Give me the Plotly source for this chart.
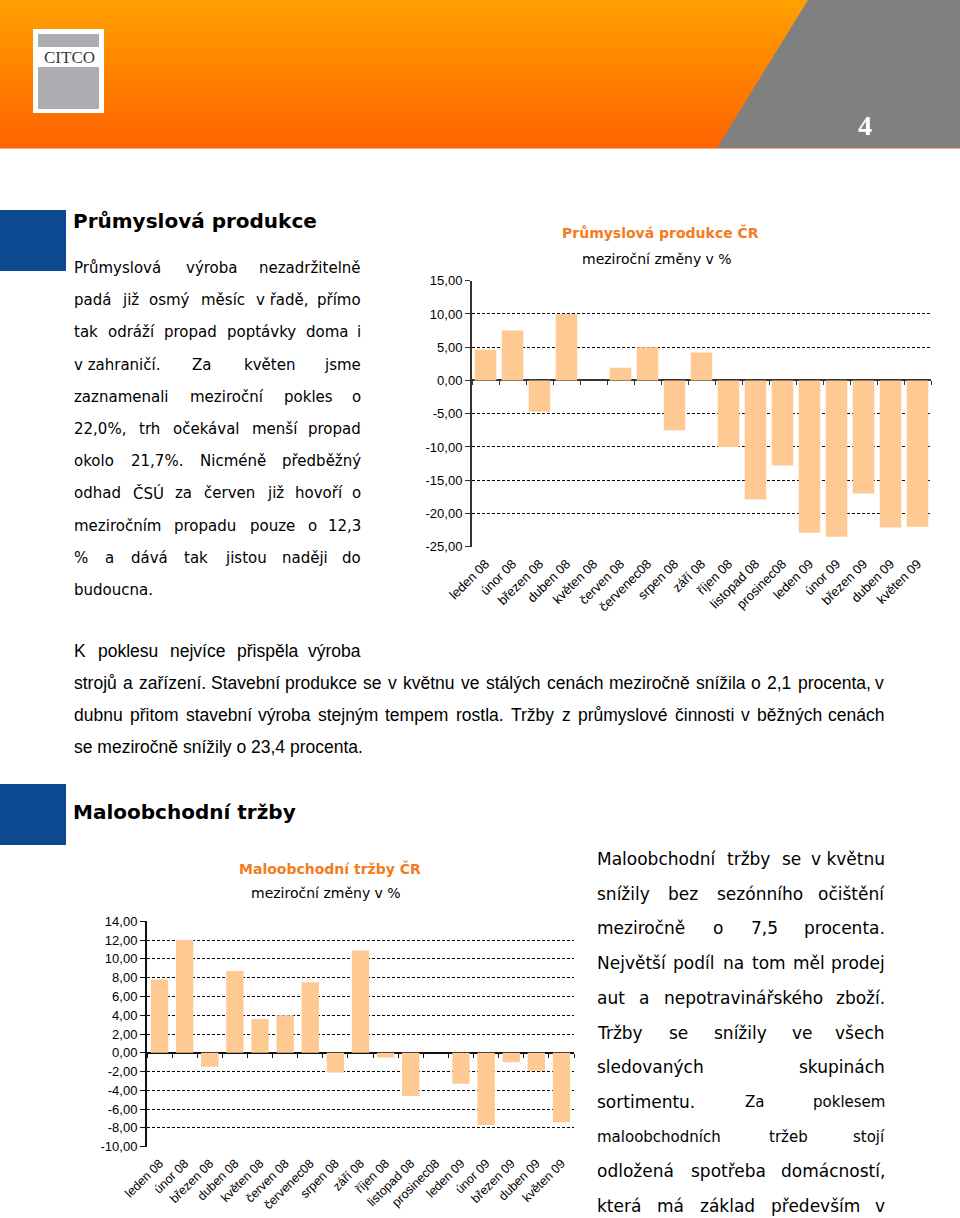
import unicodedata
import plotly.graph_objects as go

# ---------------- data ----------------
MONTHS = ["leden 08", "únor 08", "březen 08", "duben 08", "květen 08", "červen 08",
          "červenec08", "srpen 08", "září 08", "říjen 08", "listopad 08", "prosinec08",
          "leden 09", "únor 09", "březen 09", "duben 09", "květen 09"]

PRUMYSL_VALUES = [4.6, 7.5, -4.7, 10.0, None, 1.9, 5.0, -7.5, 4.2, -10.0, -17.9, -12.8,
                  -22.9, -23.5, -17.0, -22.1, -22.0]
MALOOBCH_VALUES = [7.8, 12.0, -1.5, 8.7, 3.6, 4.0, 7.5, -2.1, 10.9, -0.5, -4.6, None,
                   -3.3, -7.7, -1.0, -1.9, -7.4]

PRUMYSL_YTICKS = [-25, -20, -15, -10, -5, 0, 5, 10, 15]
MALOOBCH_YTICKS = [-10, -8, -6, -4, -2, 0, 2, 4, 6, 8, 10, 12, 14]

PRUMYSL_TITLE = "Průmyslová produkce ČR"
MALOOBCH_TITLE = "Maloobchodní tržby ČR"
SUBTITLE = "meziroční změny v %"

SECTION1 = "Průmyslová produkce"
SECTION2 = "Maloobchodní tržby"

LEFT_TEXT = [
    "Průmyslová výroba nezadržitelně",
    "padá již osmý měsíc v\u00a0řadě, přímo",
    "tak odráží propad poptávky doma i",
    "v\u00a0zahraničí. Za květen jsme",
    "zaznamenali meziroční pokles o",
    "22,0%, trh očekával menší propad",
    "okolo 21,7%. Nicméně předběžný",
    "odhad ČSÚ za červen již hovoří o",
    "meziročním propadu pouze o 12,3",
    "% a dává tak jistou naději do",
    "budoucna.",
]
MIDDLE_TEXT = [
    "K poklesu nejvíce přispěla výroba",
    "strojů a zařízení. Stavební produkce se v květnu ve stálých cenách meziročně snížila o 2,1 procenta, v",
    "dubnu přitom stavební výroba stejným tempem rostla. Tržby z průmyslové činnosti v běžných cenách",
    "se meziročně snížily o 23,4 procenta.",
]
RIGHT_TEXT = [
    "Maloobchodní tržby se v\u00a0květnu",
    "snížily bez sezónního očištění",
    "meziročně o 7,5 procenta.",
    "Největší podíl na tom měl prodej",
    "aut a nepotravinářského zboží.",
    "Tržby se snížily ve všech",
    "sledovaných skupinách",
    "sortimentu. Za poklesem",
    "maloobchodních tržeb stojí",
    "odložená spotřeba domácností,",
    "která má základ především v",
]
PAGE_NUMBER = "4"
LOGO_TEXT = "CITCO"

# ---------------- helpers ----------------
W, H = 960, 1218


def px(x):
    return x / W


def py(y):
    return 1 - y / H


DEJAVU = {' ': 318, '\u00a0': 318, 'a': 613, 'b': 635, 'c': 550, 'd': 635, 'e': 615, 'f': 352,
          'g': 635, 'h': 634, 'i': 278, 'j': 278, 'k': 579, 'l': 278, 'm': 974, 'n': 634,
          'o': 612, 'p': 635, 'q': 635, 'r': 411, 's': 521, 't': 392, 'u': 634, 'v': 592,
          'w': 818, 'x': 592, 'y': 592, 'z': 525, 'A': 684, 'B': 686, 'C': 698, 'D': 770,
          'E': 632, 'F': 575, 'G': 775, 'H': 752, 'I': 295, 'J': 295, 'K': 656, 'L': 557,
          'M': 863, 'N': 748, 'O': 787, 'P': 603, 'Q': 787, 'R': 695, 'S': 635, 'T': 611,
          'U': 732, 'V': 684, 'W': 989, 'X': 685, 'Y': 611, 'Z': 685, ',': 318, '.': 318,
          '%': 950, '-': 361, ':': 337}
ARIAL = {' ': 278, '\u00a0': 278, 'a': 556, 'b': 556, 'c': 500, 'd': 556, 'e': 556, 'f': 278,
         'g': 556, 'h': 556, 'i': 222, 'j': 222, 'k': 500, 'l': 222, 'm': 833, 'n': 556,
         'o': 556, 'p': 556, 'q': 556, 'r': 333, 's': 500, 't': 278, 'u': 556, 'v': 500,
         'w': 722, 'x': 500, 'y': 500, 'z': 500, 'A': 667, 'B': 667, 'C': 722, 'D': 722,
         'E': 667, 'F': 611, 'G': 778, 'H': 722, 'I': 278, 'J': 500, 'K': 667, 'L': 556,
         'M': 833, 'N': 722, 'O': 778, 'P': 667, 'Q': 778, 'R': 722, 'S': 667, 'T': 611,
         'U': 722, 'V': 667, 'W': 944, 'X': 667, 'Y': 667, 'Z': 611, ',': 278, '.': 278,
         '%': 889, '-': 333, ':': 278}
for d in "0123456789":
    DEJAVU[d] = 636
    ARIAL[d] = 556


def text_width(s, table, size):
    tot = 0
    for ch in s:
        base = unicodedata.normalize('NFD', ch)[0]
        tot += table.get(ch, table.get(base, 600))
    return tot / 1000 * size


annotations = []
shapes = []


def add_text(text, x, y, size, family, color="#000000", xanchor="left", bold=False):
    annotations.append(dict(
        text=f"<b>{text}</b>" if bold else text, x=px(x), y=py(y), xref="paper", yref="paper",
        xanchor=xanchor, yanchor="middle", showarrow=False, borderpad=0,
        font=dict(size=size, family=family, color=color)))


def justified_line(line, x0, x1, y, size, family, table, justify=True, sizes=None):
    words = line.split(' ')
    if sizes is None:
        sizes = [size] * len(words)
    if not justify or len(words) == 1:
        add_text(line, x0, y, size, family)
        return
    widths = [text_width(w, table, s) for w, s in zip(words, sizes)]
    gap = (x1 - x0 - sum(widths)) / (len(words) - 1)
    x = x0
    for i, (w, s, wd) in enumerate(zip(words, sizes, widths)):
        if i == len(words) - 1:
            add_text(w, x1, y, s, family, xanchor="right")
        else:
            add_text(w, x, y, s, family)
        x += wd + gap


def rect(x0, y0, x1, y1, color, layer="below"):
    shapes.append(dict(type="rect", xref="paper", yref="paper", x0=px(x0), x1=px(x1),
                       y0=py(y1), y1=py(y0), fillcolor=color, line=dict(width=0), layer=layer))


# ---------------- header ----------------
bands = 37
for i in range(bands):
    t = i / (bands - 1)
    g = int(round(160 + (100 - 160) * t))
    rect(0, i * 4, W, (i + 1) * 4 + 0.5, f"rgb(255,{g},0)")
shapes.append(dict(type="path", xref="paper", yref="paper",
                   path=f"M {px(808)},{py(0)} L {px(960)},{py(0)} L {px(960)},{py(148)} L {px(717)},{py(148)} Z",
                   fillcolor="#808080", line=dict(width=0), layer="below"))
rect(33, 29, 104, 113, "#FFFFFF")
rect(38, 34, 99, 47, "#ABADB0")
rect(38, 67, 99, 109, "#ABADB0")
add_text(LOGO_TEXT, 69, 57.5, 17, "Liberation Serif", color="#3A3A3A", xanchor="center")
add_text(PAGE_NUMBER, 865, 126, 28, "Liberation Serif", color="#FFFFFF", xanchor="center", bold=True)

# ---------------- section markers & titles ----------------
BLUE = "#0B4A91"
rect(0, 210, 66, 271, BLUE)
rect(0, 784, 66, 845, BLUE)
add_text(SECTION1, 72, 221, 20, "DejaVu Sans", bold=True)
add_text(SECTION2, 72, 812, 20, "DejaVu Sans", bold=True)

# ---------------- body text ----------------
for i, line in enumerate(LEFT_TEXT):
    justified_line(line, 73, 362, 268 + i * 32.2, 15, "DejaVu Sans", DEJAVU,
                   justify=(i < len(LEFT_TEXT) - 1))
for i, line in enumerate(MIDDLE_TEXT):
    x1 = 362 if i == 0 else 885
    justified_line(line, 73, x1, 651 + i * 32, 17.5, "Liberation Sans", ARIAL,
                   justify=(i < len(MIDDLE_TEXT) - 1))
for i, line in enumerate(RIGHT_TEXT):
    words = line.split(' ')
    sizes = [17] * len(words)
    if i == 7:
        sizes = [17] + [15] * (len(words) - 1)
    elif i == 8:
        sizes = [15] * len(words)
    justified_line(line, 596, 886, 859 + i * 34.7, sizes[0], "DejaVu Sans", DEJAVU,
                   justify=True, sizes=sizes)

# ---------------- chart titles ----------------
ORANGE = "#F47B20"
add_text(PRUMYSL_TITLE, 660, 232, 14, "DejaVu Sans", color=ORANGE, xanchor="center", bold=True)
add_text(SUBTITLE, 657, 259, 14, "DejaVu Sans", xanchor="center")
add_text(MALOOBCH_TITLE, 330, 868, 14, "DejaVu Sans", color=ORANGE, xanchor="center", bold=True)
add_text(SUBTITLE, 326, 893, 14, "DejaVu Sans", xanchor="center")

# ---------------- charts ----------------
BAR = "#FFC993"
C1 = dict(x0=472, x1=931, y0=280.7, y1=546.7, rng=[-25, 15])
C2 = dict(x0=147, x1=574, y0=921.3, y1=1146.7, rng=[-10, 14])


def fmt(v):
    return f"{v:.2f}".replace('.', ',')


def zero_pos(c):
    lo, hi = py(c["y1"]), py(c["y0"])
    return lo + (0 - c["rng"][0]) / (c["rng"][1] - c["rng"][0]) * (hi - lo)


fig = go.Figure()
fig.add_trace(go.Bar(x=MONTHS, y=PRUMYSL_VALUES, xaxis="x", yaxis="y", width=0.8,
                     marker=dict(color=BAR, line=dict(width=0)), hoverinfo="x+y"))
fig.add_trace(go.Bar(x=MONTHS, y=MALOOBCH_VALUES, xaxis="x2", yaxis="y2", width=0.69,
                     marker=dict(color=BAR, line=dict(width=0)), hoverinfo="x+y"))
# invisible helpers carrying the category ticks on the zero line
fig.add_trace(go.Scatter(x=MONTHS, y=[0] * len(MONTHS), xaxis="x3", yaxis="y", mode="markers",
                         marker=dict(opacity=0), hoverinfo="skip"))
fig.add_trace(go.Scatter(x=MONTHS, y=[0] * len(MONTHS), xaxis="x4", yaxis="y2", mode="markers",
                         marker=dict(opacity=0), hoverinfo="skip"))

n = len(MONTHS)
common_x = dict(type="category", categoryorder="array", categoryarray=MONTHS,
                range=[-0.5, n - 0.5], fixedrange=True, automargin=False)


def yaxis_for(c, ticks, xname, label_size, axcolor):
    return dict(domain=[py(c["y1"]), py(c["y0"])], anchor=xname, range=c["rng"],
                tickvals=ticks, ticktext=[fmt(v) for v in ticks], ticks="outside",
                ticklen=5, tickcolor=axcolor, showline=True, linecolor=axcolor, linewidth=2,
                showgrid=True, gridcolor="#000000", gridwidth=1, griddash="3px,2px",
                zeroline=True, zerolinecolor=axcolor, zerolinewidth=2,
                tickfont=dict(family="Liberation Sans", size=label_size, color="#000000"),
                fixedrange=True, automargin=False)


fig.update_layout(
    width=W, height=H, autosize=False, margin=dict(l=0, r=0, t=0, b=0, pad=0, autoexpand=False),
    paper_bgcolor="#FFFFFF", plot_bgcolor="rgba(0,0,0,0)", showlegend=False,
    xaxis=dict(domain=[px(C1["x0"]), px(C1["x1"])], anchor="y", tickangle=-45, ticks="",
               showline=False, showgrid=False, ticklabelstandoff=6,
               tickfont=dict(family="Liberation Sans", size=13, color="#000000"), **common_x),
    yaxis=yaxis_for(C1, PRUMYSL_YTICKS, "x", 13, "#333333"),
    xaxis2=dict(domain=[px(C2["x0"]), px(C2["x1"])], anchor="y2", tickangle=-45, ticks="",
                showline=False, showgrid=False, ticklabelstandoff=6,
                tickfont=dict(family="Liberation Sans", size=12.5, color="#000000"), **common_x),
    yaxis2=yaxis_for(C2, MALOOBCH_YTICKS, "x2", 13, "#111111"),
    xaxis3=dict(domain=[px(C1["x0"]), px(C1["x1"])], overlaying="x", anchor="free",
                position=zero_pos(C1), side="bottom", ticks="outside", tickson="boundaries",
                ticklen=4, tickwidth=1, tickcolor="#333333", showticklabels=False,
                showline=False, showgrid=False, **common_x),
    xaxis4=dict(domain=[px(C2["x0"]), px(C2["x1"])], overlaying="x2", anchor="free",
                position=zero_pos(C2), side="bottom", ticks="outside", tickson="boundaries",
                ticklen=4, tickwidth=1, tickcolor="#111111", showticklabels=False,
                showline=False, showgrid=False, **common_x),
    annotations=annotations, shapes=shapes,
)

fig.write_html("out.html", config={"displayModeBar": False},
               post_script="document.body.style.margin='0px';document.body.style.padding='0px';"
                           "document.body.style.overflow='hidden';")
